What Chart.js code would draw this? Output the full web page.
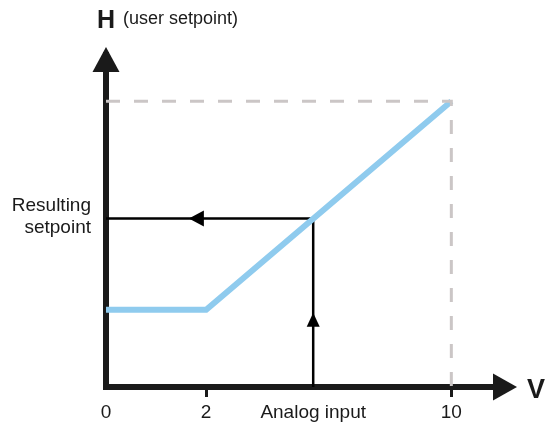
<!DOCTYPE html>
<html>
<head>
<meta charset="utf-8">
<script src="https://cdn.jsdelivr.net/npm/chart.js@4"></script>
<style>
  html, body { margin: 0; padding: 0; background: #fff; }
  #wrap { width: 548px; height: 429px; }
</style>
</head>
<body>
<div id="wrap"><canvas id="chart"></canvas></div>
<script>
// Данные
const xTicks = [0, 2.9, 6, 10];
const xTickLabels = ['0', '2', 'Analog input', '10'];
const markedTicks = [2.9, 10];           // засечки под осью
const curveV = [0, 2.9, 10];
const curveH = [2.7, 2.7, 10];
const inputV = 6;                        // аналоговый вход
const resultH = 5.9;                     // полученная уставка
const maxV = 10;
const maxH = 10;
const upArrowH = 2.6;                    // где стоит стрелка вверх
const leftArrowV = 2.4;                  // где стоит стрелка влево
const yLabel = ['Resulting', 'setpoint'];

const FONT = "'Liberation Sans', Arial, sans-serif";
const AXIS = '#1a1a1a';

// Стрелки на осях, стрелки на линиях и подписи H / V
const decorPlugin = {
    id: 'decor',
    afterDatasetsDraw(chart) {
        const ctx = chart.ctx;
        const a = chart.chartArea;
        const xs = chart.scales.x;
        const ys = chart.scales.y;
        ctx.save();
        ctx.fillStyle = AXIS;
        // ось X (острие дальше конца линии, чтобы её торец не торчал)
        const xt = a.right + 8;
        ctx.beginPath();
        ctx.moveTo(xt, a.bottom);
        ctx.lineTo(xt - 24, a.bottom - 13.5);
        ctx.lineTo(xt - 24, a.bottom + 13.5);
        ctx.closePath();
        ctx.fill();
        // ось Y
        const yt = a.top - 8;
        ctx.beginPath();
        ctx.moveTo(a.left, yt);
        ctx.lineTo(a.left - 13.5, yt + 25);
        ctx.lineTo(a.left + 13.5, yt + 25);
        ctx.closePath();
        ctx.fill();

        // стрелки на вспомогательной линии
        ctx.fillStyle = '#000';
        const ux = xs.getPixelForValue(inputV);
        const uy = ys.getPixelForValue(upArrowH);
        ctx.beginPath();
        ctx.moveTo(ux, uy);
        ctx.lineTo(ux - 6.5, uy + 14);
        ctx.lineTo(ux + 6.5, uy + 14);
        ctx.closePath();
        ctx.fill();
        const lx = xs.getPixelForValue(leftArrowV);
        const ly = ys.getPixelForValue(resultH);
        ctx.beginPath();
        ctx.moveTo(lx, ly);
        ctx.lineTo(lx + 15, ly - 8);
        ctx.lineTo(lx + 15, ly + 8);
        ctx.closePath();
        ctx.fill();

        // подписи осей
        ctx.fillStyle = AXIS;
        ctx.textBaseline = 'alphabetic';
        ctx.textAlign = 'left';
        ctx.font = 'bold 25px ' + FONT;
        ctx.fillText('H', 97, 28);
        ctx.font = '18px ' + FONT;
        ctx.fillText('(user setpoint)', 123, 24);
        ctx.font = 'bold 27px ' + FONT;
        ctx.fillText('V', 527, 398);
        ctx.restore();
    }
};

new Chart(document.getElementById('chart').getContext('2d'), {
    type: 'scatter',
    data: {
        datasets: [
            {
                // пунктир максимума
                data: [{x: 0, y: maxH}, {x: maxV, y: maxH}, {x: maxV, y: 0}],
                showLine: true,
                borderColor: '#cbc6c6',
                borderWidth: 3,
                borderDash: [14, 14],
                pointRadius: 0,
                fill: false
            },
            {
                data: curveV.map((v, i) => ({x: v, y: curveH[i]})),
                showLine: true,
                borderColor: '#8fcbee',
                borderWidth: 6,
                pointRadius: 0,
                borderCapStyle: 'butt',
                fill: false
            },
            {
                data: [{x: inputV, y: 0}, {x: inputV, y: resultH}, {x: 0, y: resultH}],
                showLine: true,
                borderColor: '#000',
                borderWidth: 2.5,
                pointRadius: 0,
                borderJoinStyle: 'miter',
                fill: false
            }
        ]
    },
    options: {
        responsive: true,
        maintainAspectRatio: false,
        animation: false,
        layout: {
            padding: { left: 0, right: 39, top: 55, bottom: 6 }
        },
        plugins: {
            legend: { display: false },
            tooltip: { enabled: false }
        },
        scales: {
            x: {
                type: 'linear',
                min: 0,
                max: 11.67,
                afterBuildTicks(scale) {
                    scale.ticks = xTicks.map(v => ({value: v}));
                },
                afterFit(scale) {
                    scale.height = 36;
                },
                ticks: {
                    autoSkip: false,
                    maxRotation: 0,
                    padding: 4,
                    color: '#1a1a1a',
                    font: { family: FONT, size: 19 },
                    callback(value) {
                        const i = xTicks.indexOf(value);
                        return i >= 0 ? xTickLabels[i] : '';
                    }
                },
                grid: {
                    drawOnChartArea: false,
                    drawTicks: true,
                    tickLength: 10,
                    lineWidth: 3,
                    color(ctx) {
                        return ctx.tick && markedTicks.includes(ctx.tick.value) ? AXIS : 'rgba(0,0,0,0)';
                    }
                },
                border: { display: true, color: AXIS, width: 6 }
            },
            y: {
                type: 'linear',
                min: 0,
                max: 11.62,
                afterBuildTicks(scale) {
                    scale.ticks = [{value: resultH}];
                },
                afterFit(scale) {
                    scale.width = 106;
                },
                ticks: {
                    padding: 15,
                    labelOffset: -2,
                    color: '#1a1a1a',
                    font: { family: FONT, size: 19, lineHeight: 1.15 },
                    callback() {
                        return yLabel;
                    }
                },
                grid: { display: false, drawTicks: false },
                border: { display: true, color: AXIS, width: 6 }
            }
        }
    },
    plugins: [decorPlugin]
});
</script>
</body>
</html>
